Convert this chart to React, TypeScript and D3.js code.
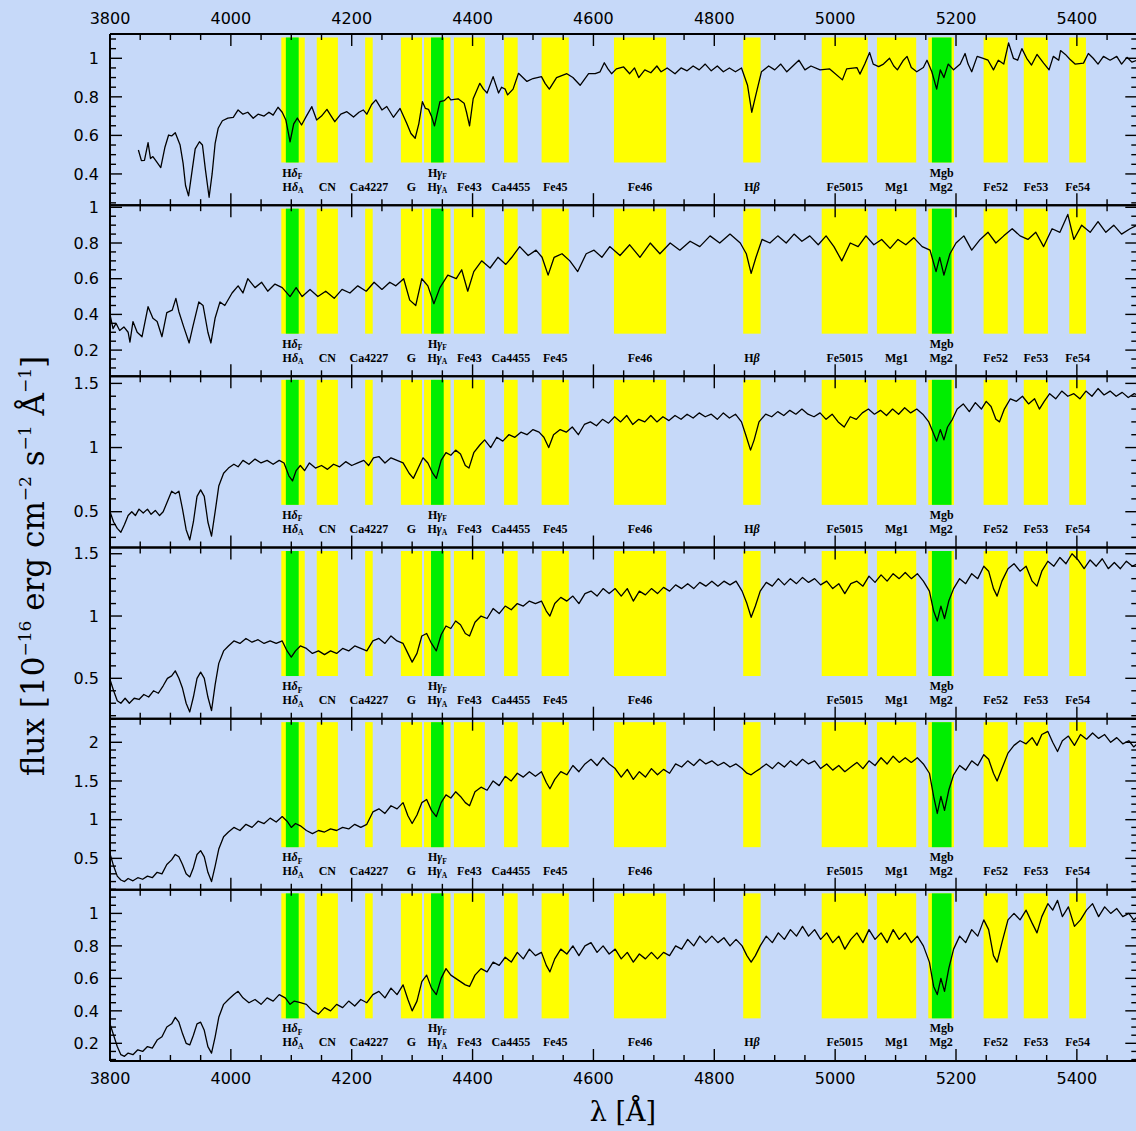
import React from 'react';
import * as d3 from 'd3';

// ---- layout ----
const W = 1136;
const H = 1131;
const PLOT_LEFT = 110;
const PX_PER_A = 0.60429;
const PANEL_TOP = 34;
const PANEL_H = 171.17;
const BG = '#c6d9f9';

// ---- wavelength axis ----
const lambdaRange: [number, number] = [3800, 5500];
const lambdaMajorTicks = [3800, 4000, 4200, 4400, 4600, 4800, 5000, 5200, 5400];
const lambdaMinorStep = 50;

// ---- Lick index passbands ----
const yellowBands: [number, number][] = [
  [4083.5, 4122.25], [4142.125, 4177.125], [4222.25, 4234.75], [4281.375, 4316.375],
  [4319.75, 4363.5], [4369.125, 4420.375], [4452.125, 4474.625], [4514.25, 4559.25],
  [4634.0, 4720.25], [4847.875, 4876.625], [4977.75, 5054.0], [5069.125, 5134.125],
  [5154.125, 5196.625], [5245.65, 5285.65], [5312.125, 5352.125], [5387.5, 5415.0],
];
const greenBands: [number, number][] = [
  [4091.0, 4112.25], [4331.25, 4352.25], [5160.125, 5192.625],
];

// label: [base text, greek letter, subscript, centre wavelength]
const upperLabels: [string, string, string, number][] = [
  ['H', 'δ', 'F', 4101.6], ['H', 'γ', 'F', 4341.75], ['Mgb', '', '', 5176.4],
];
const lowerLabels: [string, string, string, number][] = [
  ['H', 'δ', 'A', 4102.9], ['CN', '', '', 4159.6], ['Ca4227', '', '', 4228.5],
  ['G', '', '', 4298.9], ['H', 'γ', 'A', 4341.6], ['Fe43', '', '', 4394.75],
  ['Ca4455', '', '', 4463.4], ['Fe45', '', '', 4536.75], ['Fe46', '', '', 4677.1],
  ['H', 'β', '', 4862.25], ['Fe5015', '', '', 5015.9], ['Mg1', '', '', 5101.6],
  ['Mg2', '', '', 5175.4], ['Fe52', '', '', 5265.65], ['Fe53', '', '', 5332.1],
  ['Fe54', '', '', 5401.25],
];
// panels whose Hβ label is printed
const hbetaLabelled = [true, true, true, false, false, true];

// ---- flux axes per panel ----
const fluxDomains: [number, number][] = [
  [0.238, 1.126], [0.053, 1.012], [0.221, 1.555], [0.176, 1.55], [0.093, 2.305], [0.091, 1.145],
];
const fluxMajorTicks: number[][] = [
  [0.4, 0.6, 0.8, 1], [0.2, 0.4, 0.6, 0.8, 1], [0.5, 1, 1.5], [0.5, 1, 1.5], [0.5, 1, 1.5, 2],
  [0.2, 0.4, 0.6, 0.8, 1],
];
const fluxMinorSteps = [0.05, 0.05, 0.1, 0.1, 0.1, 0.05];

// ---- spectra: [wavelength (Å), flux (1e-16 erg/cm2/s/Å)] ----
const spectrum1: [number, number][] = [
  [3847, 0.524], [3852, 0.469], [3857, 0.47], [3863, 0.562], [3867, 0.48], [3871, 0.49], [3877, 0.464],
  [3884, 0.433], [3891, 0.54], [3897, 0.602], [3902, 0.597], [3908, 0.614], [3916, 0.55], [3921, 0.455],
  [3925, 0.34], [3930, 0.286], [3936, 0.42], [3941, 0.53], [3948, 0.567], [3953, 0.55], [3958, 0.42],
  [3964, 0.279], [3969, 0.4], [3974, 0.559], [3979, 0.637], [3986, 0.676], [3995, 0.69], [4004, 0.694],
  [4012, 0.732], [4020, 0.71], [4028, 0.72], [4037, 0.689], [4045, 0.71], [4055, 0.7], [4063, 0.72],
  [4070, 0.705], [4078, 0.746], [4085, 0.72], [4091, 0.68], [4098, 0.567], [4104, 0.66], [4110, 0.69],
  [4117, 0.654], [4125, 0.7], [4134, 0.749], [4142, 0.68], [4150, 0.7], [4159, 0.735], [4166, 0.7],
  [4172, 0.671], [4182, 0.71], [4192, 0.723], [4203, 0.695], [4212, 0.72], [4219, 0.732], [4225, 0.71],
  [4233, 0.76], [4240, 0.784], [4250, 0.732], [4258, 0.75], [4269, 0.694], [4280, 0.74], [4291, 0.663],
  [4298, 0.61], [4305, 0.585], [4311, 0.66], [4317, 0.775], [4322, 0.74], [4327, 0.735], [4332, 0.7],
  [4337, 0.649], [4346, 0.775], [4353, 0.78], [4360, 0.801], [4364, 0.784], [4376, 0.79], [4386, 0.767],
  [4390, 0.72], [4395, 0.649], [4401, 0.79], [4412, 0.87], [4418, 0.84], [4424, 0.82], [4434, 0.905],
  [4443, 0.82], [4448, 0.85], [4454, 0.84], [4458, 0.81], [4467, 0.84], [4476, 0.922], [4490, 0.88],
  [4500, 0.895], [4514, 0.905], [4520, 0.87], [4527, 0.84], [4539, 0.9], [4556, 0.92], [4566, 0.9],
  [4578, 0.86], [4592, 0.92], [4603, 0.92], [4611, 0.93], [4618, 0.977], [4624, 0.945], [4630, 0.92],
  [4638, 0.945], [4650, 0.955], [4660, 0.92], [4668, 0.95], [4675, 0.9], [4685, 0.94], [4695, 0.925],
  [4705, 0.96], [4712, 0.93], [4722, 0.95], [4735, 0.92], [4745, 0.95], [4755, 0.935], [4765, 0.96],
  [4775, 0.94], [4785, 0.97], [4795, 0.935], [4805, 0.96], [4815, 0.93], [4825, 0.95], [4835, 0.93],
  [4845, 0.95], [4855, 0.86], [4862, 0.72], [4868, 0.8], [4878, 0.93], [4890, 0.96], [4900, 0.94],
  [4910, 0.97], [4920, 0.93], [4930, 0.96], [4940, 0.99], [4950, 0.94], [4960, 0.96], [4975, 0.94],
  [4991, 0.945], [5012, 0.888], [5019, 0.945], [5036, 0.952], [5041, 0.918], [5049, 0.97], [5057, 1.03],
  [5063, 0.97], [5072, 0.957], [5080, 0.97], [5090, 1.0], [5097, 0.96], [5103, 0.94], [5113, 0.99],
  [5119, 1.01], [5126, 0.952], [5135, 0.93], [5146, 0.952], [5152, 0.99], [5160, 0.93], [5168, 0.84],
  [5174, 0.94], [5180, 0.9], [5187, 0.97], [5196, 0.94], [5207, 0.97], [5215, 1.025], [5220, 0.97],
  [5226, 0.93], [5235, 1.01], [5245, 1.0], [5253, 0.99], [5262, 0.94], [5270, 0.99], [5279, 0.97],
  [5287, 1.08], [5295, 1.0], [5302, 0.99], [5309, 1.05], [5317, 1.0], [5325, 0.965], [5334, 1.02],
  [5345, 0.975], [5354, 0.94], [5361, 1.01], [5370, 0.99], [5373, 1.04], [5381, 1.02], [5388, 0.996],
  [5397, 0.97], [5411, 0.975], [5419, 1.025], [5427, 1.0], [5435, 0.97], [5444, 1.01], [5455, 0.99],
  [5466, 1.01], [5474, 0.97], [5483, 1.005], [5491, 0.98], [5500, 0.99],
];

const spectrum2: [number, number][] = [
  [3800, 0.4], [3805, 0.32], [3810, 0.35], [3816, 0.31], [3823, 0.33], [3830, 0.3], [3833, 0.245],
  [3838, 0.36], [3845, 0.3], [3853, 0.275], [3863, 0.443], [3871, 0.378], [3878, 0.36], [3886, 0.275],
  [3894, 0.41], [3903, 0.424], [3909, 0.49], [3914, 0.415], [3922, 0.33], [3931, 0.24], [3937, 0.33],
  [3947, 0.47], [3954, 0.45], [3962, 0.3], [3967, 0.24], [3974, 0.38], [3982, 0.47], [3990, 0.45],
  [4002, 0.52], [4012, 0.56], [4020, 0.52], [4028, 0.6], [4040, 0.55], [4051, 0.58], [4061, 0.53],
  [4073, 0.57], [4085, 0.55], [4098, 0.5], [4108, 0.55], [4118, 0.5], [4131, 0.54], [4144, 0.5],
  [4157, 0.53], [4171, 0.49], [4184, 0.54], [4197, 0.52], [4210, 0.56], [4224, 0.53], [4237, 0.58],
  [4250, 0.54], [4263, 0.58], [4273, 0.56], [4286, 0.6], [4296, 0.48], [4306, 0.45], [4316, 0.6],
  [4326, 0.56], [4336, 0.46], [4346, 0.55], [4359, 0.62], [4373, 0.6], [4382, 0.65], [4392, 0.53],
  [4402, 0.64], [4415, 0.7], [4429, 0.66], [4442, 0.72], [4455, 0.68], [4465, 0.72], [4478, 0.78],
  [4492, 0.73], [4505, 0.76], [4515, 0.72], [4525, 0.62], [4535, 0.72], [4548, 0.74], [4561, 0.7],
  [4574, 0.64], [4588, 0.74], [4601, 0.76], [4614, 0.72], [4627, 0.78], [4644, 0.73], [4660, 0.79],
  [4677, 0.72], [4694, 0.8], [4710, 0.74], [4727, 0.8], [4743, 0.76], [4760, 0.81], [4776, 0.78],
  [4793, 0.84], [4809, 0.8], [4826, 0.85], [4843, 0.8], [4853, 0.74], [4861, 0.63], [4869, 0.72],
  [4879, 0.82], [4892, 0.8], [4905, 0.84], [4919, 0.8], [4932, 0.85], [4945, 0.81], [4958, 0.84],
  [4972, 0.79], [4985, 0.84], [4998, 0.78], [5011, 0.7], [5025, 0.8], [5038, 0.78], [5051, 0.84],
  [5064, 0.79], [5077, 0.82], [5091, 0.77], [5104, 0.82], [5117, 0.79], [5130, 0.83], [5144, 0.78],
  [5157, 0.76], [5167, 0.64], [5173, 0.72], [5180, 0.62], [5190, 0.74], [5200, 0.8], [5213, 0.84],
  [5226, 0.76], [5240, 0.82], [5253, 0.86], [5266, 0.8], [5279, 0.84], [5293, 0.88], [5306, 0.84],
  [5319, 0.82], [5332, 0.86], [5345, 0.78], [5359, 0.88], [5372, 0.86], [5385, 0.96], [5395, 0.82],
  [5408, 0.9], [5422, 0.86], [5435, 0.92], [5448, 0.86], [5461, 0.9], [5474, 0.85], [5488, 0.88],
  [5500, 0.9],
];

const spectrum3: [number, number][] = [
  [3800, 0.5], [3806, 0.42], [3812, 0.37], [3818, 0.34], [3824, 0.4], [3830, 0.47], [3836, 0.5],
  [3842, 0.47], [3848, 0.52], [3855, 0.49], [3862, 0.52], [3868, 0.48], [3875, 0.51], [3882, 0.47],
  [3888, 0.5], [3895, 0.58], [3902, 0.66], [3908, 0.64], [3914, 0.66], [3920, 0.52], [3926, 0.36],
  [3932, 0.28], [3938, 0.42], [3944, 0.62], [3950, 0.67], [3956, 0.62], [3962, 0.42], [3968, 0.31],
  [3974, 0.5], [3980, 0.7], [3988, 0.8], [3996, 0.84], [4005, 0.87], [4012, 0.85], [4020, 0.9],
  [4030, 0.87], [4040, 0.91], [4050, 0.88], [4060, 0.9], [4070, 0.87], [4080, 0.9], [4088, 0.88],
  [4096, 0.78], [4102, 0.74], [4108, 0.82], [4115, 0.86], [4122, 0.82], [4130, 0.88], [4140, 0.84],
  [4150, 0.86], [4160, 0.83], [4170, 0.87], [4180, 0.85], [4190, 0.89], [4200, 0.86], [4210, 0.88],
  [4220, 0.9], [4228, 0.86], [4236, 0.92], [4245, 0.93], [4255, 0.88], [4265, 0.92], [4275, 0.9],
  [4285, 0.88], [4295, 0.8], [4302, 0.76], [4310, 0.84], [4318, 0.92], [4326, 0.88], [4334, 0.8],
  [4340, 0.76], [4348, 0.9], [4356, 0.96], [4364, 0.94], [4372, 0.98], [4380, 0.95], [4388, 0.86],
  [4394, 0.84], [4402, 0.96], [4412, 1.02], [4420, 1.06], [4430, 1.0], [4440, 1.08], [4450, 1.05],
  [4460, 1.1], [4470, 1.08], [4480, 1.12], [4490, 1.1], [4500, 1.14], [4510, 1.12], [4518, 1.08],
  [4526, 1.0], [4534, 1.1], [4545, 1.14], [4555, 1.12], [4565, 1.16], [4575, 1.1], [4585, 1.18],
  [4595, 1.2], [4605, 1.17], [4615, 1.22], [4625, 1.19], [4635, 1.24], [4645, 1.2], [4655, 1.25],
  [4665, 1.18], [4675, 1.22], [4685, 1.2], [4695, 1.25], [4705, 1.2], [4715, 1.24], [4725, 1.21],
  [4735, 1.25], [4745, 1.22], [4755, 1.26], [4765, 1.23], [4775, 1.27], [4785, 1.24], [4795, 1.26],
  [4805, 1.22], [4815, 1.27], [4825, 1.23], [4835, 1.26], [4845, 1.2], [4852, 1.1], [4860, 0.98],
  [4866, 1.06], [4874, 1.2], [4885, 1.26], [4895, 1.24], [4905, 1.28], [4915, 1.25], [4925, 1.29],
  [4935, 1.26], [4945, 1.3], [4955, 1.26], [4965, 1.24], [4975, 1.27], [4985, 1.22], [4995, 1.26],
  [5005, 1.2], [5015, 1.16], [5025, 1.24], [5035, 1.22], [5045, 1.27], [5055, 1.3], [5065, 1.26],
  [5075, 1.29], [5085, 1.25], [5095, 1.3], [5105, 1.26], [5115, 1.31], [5125, 1.27], [5135, 1.3],
  [5145, 1.26], [5155, 1.2], [5162, 1.12], [5168, 1.05], [5174, 1.14], [5180, 1.06], [5186, 1.16],
  [5194, 1.22], [5202, 1.3], [5212, 1.34], [5222, 1.28], [5232, 1.35], [5242, 1.3], [5250, 1.36],
  [5258, 1.32], [5266, 1.22], [5272, 1.2], [5280, 1.3], [5290, 1.38], [5300, 1.36], [5310, 1.4],
  [5320, 1.34], [5330, 1.38], [5338, 1.3], [5346, 1.36], [5355, 1.42], [5365, 1.38], [5375, 1.44],
  [5385, 1.4], [5395, 1.42], [5405, 1.38], [5415, 1.44], [5425, 1.4], [5435, 1.46], [5445, 1.41],
  [5455, 1.44], [5465, 1.4], [5475, 1.43], [5485, 1.39], [5495, 1.42], [5500, 1.41],
];

const spectrum4: [number, number][] = [
  [3800, 0.49], [3806, 0.4], [3812, 0.32], [3818, 0.3], [3825, 0.34], [3832, 0.3], [3840, 0.34],
  [3848, 0.33], [3856, 0.37], [3864, 0.35], [3872, 0.4], [3880, 0.38], [3888, 0.44], [3895, 0.5],
  [3902, 0.52], [3908, 0.56], [3914, 0.5], [3920, 0.42], [3926, 0.3], [3932, 0.23], [3938, 0.35],
  [3944, 0.5], [3950, 0.55], [3956, 0.5], [3962, 0.35], [3968, 0.24], [3974, 0.45], [3980, 0.62],
  [3988, 0.72], [3996, 0.76], [4005, 0.8], [4015, 0.78], [4025, 0.82], [4035, 0.79], [4045, 0.81],
  [4055, 0.78], [4065, 0.8], [4075, 0.78], [4085, 0.8], [4093, 0.72], [4100, 0.67], [4107, 0.72],
  [4115, 0.76], [4125, 0.74], [4135, 0.7], [4145, 0.72], [4155, 0.69], [4165, 0.72], [4175, 0.7],
  [4185, 0.74], [4195, 0.72], [4205, 0.76], [4215, 0.74], [4225, 0.72], [4235, 0.8], [4245, 0.82],
  [4255, 0.78], [4265, 0.84], [4275, 0.8], [4285, 0.78], [4293, 0.7], [4300, 0.63], [4308, 0.7],
  [4316, 0.84], [4324, 0.86], [4332, 0.78], [4340, 0.72], [4348, 0.85], [4356, 0.92], [4364, 0.9],
  [4372, 0.96], [4380, 0.93], [4388, 0.86], [4395, 0.84], [4404, 0.95], [4414, 1.0], [4424, 0.98],
  [4434, 1.06], [4444, 1.02], [4454, 1.08], [4464, 1.05], [4474, 1.1], [4484, 1.08], [4494, 1.12],
  [4504, 1.1], [4514, 1.12], [4522, 1.04], [4528, 1.0], [4536, 1.1], [4546, 1.15], [4556, 1.12],
  [4566, 1.16], [4576, 1.1], [4586, 1.18], [4596, 1.2], [4606, 1.16], [4616, 1.22], [4626, 1.18],
  [4636, 1.22], [4646, 1.16], [4656, 1.22], [4666, 1.12], [4676, 1.2], [4686, 1.17], [4696, 1.22],
  [4706, 1.18], [4716, 1.23], [4726, 1.2], [4736, 1.25], [4746, 1.22], [4756, 1.26], [4766, 1.22],
  [4776, 1.27], [4786, 1.24], [4796, 1.28], [4806, 1.24], [4816, 1.28], [4826, 1.25], [4836, 1.28],
  [4846, 1.2], [4854, 1.1], [4861, 0.99], [4868, 1.08], [4876, 1.2], [4886, 1.27], [4896, 1.24],
  [4906, 1.3], [4916, 1.25], [4926, 1.3], [4936, 1.26], [4946, 1.31], [4956, 1.27], [4966, 1.3],
  [4976, 1.25], [4986, 1.28], [4996, 1.22], [5006, 1.26], [5016, 1.18], [5026, 1.26], [5036, 1.28],
  [5046, 1.24], [5056, 1.32], [5066, 1.27], [5076, 1.33], [5086, 1.28], [5096, 1.34], [5106, 1.3],
  [5116, 1.35], [5126, 1.3], [5136, 1.34], [5146, 1.28], [5156, 1.2], [5163, 1.04], [5169, 0.96],
  [5175, 1.08], [5181, 0.98], [5188, 1.12], [5196, 1.22], [5206, 1.3], [5216, 1.26], [5226, 1.34],
  [5236, 1.3], [5246, 1.4], [5254, 1.36], [5262, 1.22], [5268, 1.16], [5276, 1.28], [5286, 1.38],
  [5296, 1.42], [5306, 1.36], [5316, 1.4], [5326, 1.28], [5334, 1.24], [5342, 1.36], [5352, 1.44],
  [5362, 1.4], [5372, 1.47], [5382, 1.42], [5392, 1.5], [5402, 1.45], [5412, 1.38], [5422, 1.45],
  [5432, 1.4], [5442, 1.46], [5452, 1.38], [5462, 1.43], [5472, 1.38], [5482, 1.44], [5492, 1.4],
  [5500, 1.42],
];

const spectrum5: [number, number][] = [
  [3800, 0.56], [3806, 0.4], [3812, 0.27], [3818, 0.22], [3824, 0.2], [3830, 0.24], [3838, 0.21],
  [3846, 0.25], [3854, 0.23], [3862, 0.27], [3870, 0.25], [3878, 0.32], [3886, 0.3], [3894, 0.42],
  [3902, 0.48], [3908, 0.55], [3914, 0.52], [3920, 0.42], [3926, 0.3], [3932, 0.26], [3938, 0.38],
  [3944, 0.55], [3950, 0.6], [3956, 0.52], [3962, 0.32], [3968, 0.2], [3974, 0.4], [3980, 0.62],
  [3988, 0.78], [3996, 0.84], [4005, 0.9], [4015, 0.86], [4025, 0.94], [4035, 0.9], [4045, 0.98],
  [4055, 0.95], [4065, 1.02], [4075, 0.97], [4085, 1.04], [4093, 0.98], [4100, 0.9], [4107, 0.95],
  [4115, 0.92], [4125, 0.86], [4135, 0.82], [4145, 0.86], [4155, 0.84], [4165, 0.88], [4175, 0.86],
  [4185, 0.9], [4195, 0.88], [4205, 0.94], [4215, 0.9], [4225, 0.94], [4235, 1.1], [4245, 1.14],
  [4255, 1.08], [4265, 1.18], [4275, 1.14], [4285, 1.22], [4293, 1.05], [4300, 0.95], [4308, 1.06],
  [4316, 1.22], [4324, 1.26], [4332, 1.12], [4340, 1.04], [4348, 1.22], [4356, 1.32], [4364, 1.28],
  [4372, 1.36], [4380, 1.3], [4388, 1.22], [4395, 1.18], [4404, 1.36], [4414, 1.42], [4424, 1.38],
  [4434, 1.5], [4444, 1.44], [4454, 1.56], [4464, 1.5], [4474, 1.6], [4484, 1.55], [4494, 1.62],
  [4504, 1.56], [4514, 1.62], [4522, 1.48], [4528, 1.4], [4536, 1.52], [4546, 1.62], [4556, 1.58],
  [4566, 1.7], [4576, 1.62], [4586, 1.72], [4596, 1.78], [4606, 1.7], [4616, 1.8], [4626, 1.72],
  [4636, 1.66], [4646, 1.55], [4656, 1.65], [4666, 1.52], [4676, 1.62], [4686, 1.55], [4696, 1.66],
  [4706, 1.58], [4716, 1.65], [4726, 1.6], [4736, 1.72], [4746, 1.68], [4756, 1.76], [4766, 1.7],
  [4776, 1.78], [4786, 1.72], [4796, 1.76], [4806, 1.7], [4816, 1.74], [4826, 1.68], [4836, 1.72],
  [4846, 1.66], [4854, 1.6], [4861, 1.58], [4868, 1.62], [4876, 1.66], [4886, 1.72], [4896, 1.66],
  [4906, 1.74], [4916, 1.68], [4926, 1.76], [4936, 1.7], [4946, 1.78], [4956, 1.72], [4966, 1.76],
  [4976, 1.66], [4986, 1.72], [4996, 1.64], [5006, 1.7], [5016, 1.62], [5026, 1.68], [5036, 1.74],
  [5046, 1.66], [5056, 1.76], [5066, 1.7], [5076, 1.8], [5086, 1.72], [5096, 1.82], [5106, 1.74],
  [5116, 1.8], [5126, 1.74], [5136, 1.8], [5146, 1.72], [5156, 1.6], [5163, 1.3], [5169, 1.08],
  [5175, 1.3], [5181, 1.12], [5188, 1.38], [5196, 1.58], [5206, 1.7], [5216, 1.64], [5226, 1.76],
  [5236, 1.7], [5246, 1.84], [5254, 1.78], [5262, 1.6], [5268, 1.5], [5276, 1.66], [5286, 1.86],
  [5296, 1.96], [5306, 2.02], [5316, 1.98], [5326, 2.06], [5334, 1.96], [5342, 2.1], [5352, 2.14],
  [5360, 2.0], [5368, 1.88], [5376, 2.02], [5386, 2.08], [5396, 1.96], [5406, 2.1], [5416, 2.04],
  [5426, 2.12], [5436, 2.05], [5446, 2.1], [5456, 2.0], [5466, 2.06], [5476, 1.98], [5486, 2.02],
  [5494, 1.94], [5500, 1.98],
];

const spectrum6: [number, number][] = [
  [3800, 0.32], [3806, 0.25], [3812, 0.18], [3818, 0.13], [3824, 0.12], [3830, 0.14], [3838, 0.13],
  [3846, 0.16], [3854, 0.15], [3862, 0.18], [3870, 0.17], [3878, 0.22], [3886, 0.24], [3894, 0.3],
  [3902, 0.32], [3908, 0.36], [3914, 0.33], [3920, 0.26], [3926, 0.2], [3932, 0.19], [3938, 0.25],
  [3944, 0.32], [3950, 0.33], [3956, 0.28], [3962, 0.18], [3968, 0.14], [3974, 0.24], [3980, 0.36],
  [3988, 0.44], [3996, 0.47], [4005, 0.5], [4012, 0.52], [4020, 0.48], [4030, 0.45], [4040, 0.47],
  [4050, 0.44], [4060, 0.48], [4070, 0.46], [4080, 0.5], [4090, 0.48], [4098, 0.44], [4105, 0.46],
  [4115, 0.45], [4125, 0.44], [4135, 0.4], [4145, 0.38], [4155, 0.42], [4165, 0.4], [4175, 0.44],
  [4185, 0.42], [4195, 0.46], [4205, 0.43], [4215, 0.47], [4225, 0.45], [4235, 0.5], [4245, 0.52],
  [4255, 0.48], [4265, 0.54], [4275, 0.5], [4285, 0.56], [4293, 0.47], [4300, 0.4], [4308, 0.46],
  [4316, 0.58], [4324, 0.62], [4332, 0.54], [4340, 0.5], [4348, 0.6], [4356, 0.66], [4364, 0.62],
  [4372, 0.6], [4380, 0.58], [4388, 0.56], [4395, 0.55], [4404, 0.62], [4414, 0.66], [4424, 0.64],
  [4434, 0.7], [4444, 0.68], [4454, 0.73], [4464, 0.7], [4474, 0.76], [4484, 0.72], [4494, 0.78],
  [4504, 0.74], [4514, 0.76], [4522, 0.68], [4528, 0.64], [4536, 0.72], [4546, 0.78], [4556, 0.75],
  [4566, 0.8], [4576, 0.74], [4586, 0.8], [4596, 0.82], [4606, 0.76], [4616, 0.8], [4626, 0.75],
  [4636, 0.78], [4646, 0.72], [4656, 0.76], [4666, 0.7], [4676, 0.75], [4686, 0.72], [4696, 0.76],
  [4706, 0.72], [4716, 0.76], [4726, 0.74], [4736, 0.8], [4746, 0.78], [4756, 0.84], [4766, 0.8],
  [4776, 0.86], [4786, 0.82], [4796, 0.86], [4806, 0.82], [4816, 0.85], [4826, 0.8], [4836, 0.84],
  [4846, 0.8], [4854, 0.74], [4861, 0.7], [4868, 0.74], [4876, 0.8], [4886, 0.86], [4896, 0.82],
  [4906, 0.88], [4916, 0.84], [4926, 0.9], [4936, 0.86], [4946, 0.92], [4956, 0.86], [4966, 0.9],
  [4976, 0.84], [4986, 0.88], [4996, 0.82], [5006, 0.86], [5016, 0.78], [5026, 0.84], [5036, 0.88],
  [5046, 0.82], [5056, 0.9], [5066, 0.84], [5076, 0.88], [5086, 0.82], [5096, 0.9], [5106, 0.84],
  [5116, 0.88], [5126, 0.82], [5136, 0.86], [5146, 0.8], [5156, 0.7], [5163, 0.55], [5169, 0.5],
  [5175, 0.6], [5181, 0.52], [5188, 0.66], [5196, 0.78], [5206, 0.86], [5216, 0.82], [5226, 0.9],
  [5236, 0.86], [5246, 0.96], [5254, 0.9], [5262, 0.74], [5268, 0.7], [5276, 0.82], [5286, 0.96],
  [5296, 1.0], [5306, 0.96], [5316, 1.02], [5326, 0.94], [5334, 0.88], [5342, 0.98], [5352, 1.06],
  [5360, 1.02], [5368, 1.08], [5376, 0.98], [5386, 1.04], [5396, 0.92], [5406, 0.96], [5416, 1.02],
  [5426, 1.06], [5436, 0.98], [5446, 1.04], [5456, 1.0], [5466, 1.03], [5476, 0.98], [5486, 1.0],
  [5494, 0.96], [5500, 0.98],
];

const spectra = [spectrum1, spectrum2, spectrum3, spectrum4, spectrum5, spectrum6];

const TICK_FONT = '"DejaVu Sans", sans-serif';
const LABEL_FONT = '"Liberation Serif", serif';
const TITLE_FONT = '"DejaVu Serif", serif';

const x = d3
  .scaleLinear()
  .domain(lambdaRange)
  .range([PLOT_LEFT, PLOT_LEFT + (lambdaRange[1] - lambdaRange[0]) * PX_PER_A]);
const PLOT_RIGHT = x(lambdaRange[1]);

const fmt = (v: number) => (Number.isInteger(v) ? String(v) : String(+v.toFixed(2)));

function steps(lo: number, hi: number, step: number): number[] {
  const out: number[] = [];
  const start = Math.ceil(lo / step - 1e-9);
  for (let k = start; k * step <= hi + 1e-9; k++) out.push(+(k * step).toFixed(4));
  return out;
}

function IndexLabel({ item, y }: { item: [string, string, string, number]; y: number }) {
  const [base, greek, sub, centre] = item;
  return (
    <text
      x={x(centre)}
      y={y}
      textAnchor="middle"
      fontFamily={LABEL_FONT}
      fontWeight="bold"
      fontSize={12}
      fill="#000"
    >
      <tspan>{base}</tspan>
      {greek && <tspan fontStyle="italic">{greek}</tspan>}
      {sub && (
        <tspan fontSize={7.5} dy={2.5}>
          {sub}
        </tspan>
      )}
    </text>
  );
}

function Panel({ index }: { index: number }) {
  const top = PANEL_TOP + index * PANEL_H;
  const bottom = top + PANEL_H;
  const y = d3.scaleLinear().domain(fluxDomains[index]).range([bottom, top]);
  const line = d3
    .line<[number, number]>()
    .x((d) => x(d[0]))
    .y((d) => y(d[1]));
  const clipId = `panel-clip-${index}`;
  const xMinor = steps(lambdaRange[0], lambdaRange[1], lambdaMinorStep);
  const yMinor = steps(fluxDomains[index][0], fluxDomains[index][1], fluxMinorSteps[index]);
  const majors = fluxMajorTicks[index];
  const isMajorX = (v: number) => lambdaMajorTicks.includes(v);
  const isMajorY = (v: number) => majors.some((m) => Math.abs(m - v) < 1e-6);
  const bandTop = top + 3.5;
  const bandH = 125;
  const lower = lowerLabels.filter((l) => l[1] !== 'β' || hbetaLabelled[index]);

  return (
    <g>
      <defs>
        <clipPath id={clipId}>
          <rect x={PLOT_LEFT} y={top} width={PLOT_RIGHT - PLOT_LEFT} height={PANEL_H} />
        </clipPath>
      </defs>
      {yellowBands.map(([a, b], i) => (
        <rect key={`y${i}`} x={x(a)} y={bandTop} width={x(b) - x(a)} height={bandH} fill="#ffff00" />
      ))}
      {greenBands.map(([a, b], i) => (
        <rect key={`g${i}`} x={x(a)} y={bandTop} width={x(b) - x(a)} height={bandH} fill="#00ee00" />
      ))}
      {upperLabels.map((l, i) => (
        <IndexLabel key={`u${i}`} item={l} y={top + 142.5} />
      ))}
      {lower.map((l, i) => (
        <IndexLabel key={`l${i}`} item={l} y={top + 156.5} />
      ))}
      <path
        d={line(spectra[index]) || ''}
        fill="none"
        stroke="#000"
        strokeWidth={1.3}
        strokeLinejoin="round"
        clipPath={`url(#${clipId})`}
      />
      {/* wavelength ticks on top and bottom edges */}
      {xMinor.map((v) => {
        const len = isMajorX(v) ? 12 : 6;
        return (
          <g key={`xt${v}`} stroke="#000" strokeWidth={1.4}>
            <line x1={x(v)} x2={x(v)} y1={top} y2={top + len} />
            <line x1={x(v)} x2={x(v)} y1={bottom} y2={bottom - len} />
          </g>
        );
      })}
      {/* flux ticks on left and right edges */}
      {yMinor.map((v) => {
        const len = isMajorY(v) ? 12 : 6;
        return (
          <g key={`yt${v}`} stroke="#000" strokeWidth={1.4}>
            <line x1={PLOT_LEFT} x2={PLOT_LEFT + len} y1={y(v)} y2={y(v)} />
            <line x1={PLOT_RIGHT} x2={PLOT_RIGHT - len} y1={y(v)} y2={y(v)} />
          </g>
        );
      })}
      {majors.map((v) => (
        <text
          key={`yl${v}`}
          x={99}
          y={y(v)}
          dy="0.36em"
          textAnchor="end"
          fontFamily={TICK_FONT}
          fontSize={16}
          fill="#000"
        >
          {fmt(v)}
        </text>
      ))}
      <line x1={PLOT_LEFT} x2={PLOT_RIGHT} y1={top} y2={top} stroke="#000" strokeWidth={2} />
      <line x1={PLOT_LEFT} x2={PLOT_RIGHT} y1={bottom} y2={bottom} stroke="#000" strokeWidth={2} />
    </g>
  );
}

export default function App() {
  const plotBottom = PANEL_TOP + 6 * PANEL_H;
  return (
    <svg
      width={W}
      height={H}
      viewBox={`0 0 ${W} ${H}`}
      style={{ display: 'block', position: 'absolute', left: 0, top: 0, background: BG }}
    >
      <rect x={0} y={0} width={W} height={H} fill={BG} />
      {spectra.map((_, i) => (
        <Panel key={i} index={i} />
      ))}
      <line x1={PLOT_LEFT} x2={PLOT_LEFT} y1={PANEL_TOP} y2={plotBottom} stroke="#000" strokeWidth={2} />
      <line x1={PLOT_RIGHT} x2={PLOT_RIGHT} y1={PANEL_TOP} y2={plotBottom} stroke="#000" strokeWidth={2} />
      {lambdaMajorTicks.map((v) => (
        <g key={`xl${v}`} fontFamily={TICK_FONT} fontSize={16} fill="#000" textAnchor="middle">
          <text x={x(v)} y={24}>
            {v}
          </text>
          <text x={x(v)} y={1084}>
            {v}
          </text>
        </g>
      ))}
      <text x={623} y={1121} textAnchor="middle" fontFamily={TITLE_FONT} fontSize={27} fill="#000">
        λ [Å]
      </text>
      <text
        transform="translate(44,566) rotate(-90)"
        textAnchor="middle"
        fontFamily={TITLE_FONT}
        fontSize={31}
        fill="#000"
      >
        flux [10
        <tspan fontSize={17} dy={-13}>
          −16
        </tspan>
        <tspan dy={13}> erg cm</tspan>
        <tspan fontSize={17} dy={-13}>
          −2
        </tspan>
        <tspan dy={13}> s</tspan>
        <tspan fontSize={17} dy={-13}>
          −1
        </tspan>
        <tspan dy={13}> Å</tspan>
        <tspan fontSize={17} dy={-13}>
          −1
        </tspan>
        <tspan dy={13}>]</tspan>
      </text>
    </svg>
  );
}
